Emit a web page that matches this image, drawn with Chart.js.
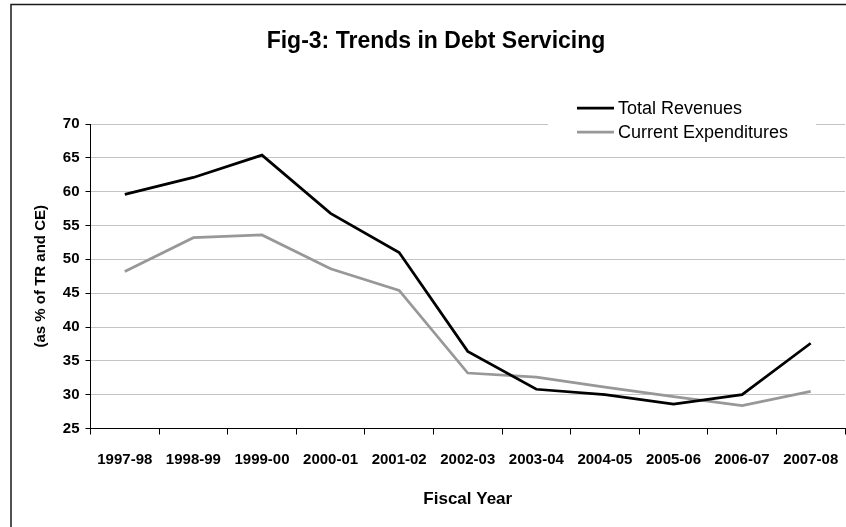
<!DOCTYPE html>
<html>
<head>
<meta charset="utf-8">
<title>Fig-3: Trends in Debt Servicing</title>
<script src="https://cdn.jsdelivr.net/npm/chart.js@4/dist/chart.umd.min.js"></script>
<style>
    html, body { margin: 0; padding: 0; background: #fff; }
    #chart { display: block; }
</style>
</head>
<body>
<canvas id="chart" width="846" height="527"></canvas>
<script>
// Values
const fiscalYears = ['1997-98', '1998-99', '1999-00', '2000-01', '2001-02', '2002-03',
    '2003-04', '2004-05', '2005-06', '2006-07', '2007-08'];
const totalRevenues = [59.6, 62.1, 65.4, 56.8, 51.0, 36.4, 30.8, 30.0, 28.6, 30.0, 37.6];
const currentExpenditures = [48.2, 53.2, 53.6, 48.6, 45.4, 33.2, 32.6, 31.1, 29.7, 28.4, 30.5];
const yTicks = [25, 30, 35, 40, 45, 50, 55, 60, 65, 70];

const chartTitle = 'Fig-3: Trends in Debt Servicing';
const FONT = '"Liberation Sans", Arial, Helvetica, sans-serif';

Chart.defaults.font.family = FONT;
Chart.defaults.color = '#000';

// Outer frame, title and the boxed legend (drawn by hand to match the Excel look)
const figureDecor = {
    id: 'figureDecor',
    afterDraw(chart) {
        const ctx = chart.ctx;
        ctx.save();

        // frame (top + left edge visible)
        ctx.strokeStyle = '#1a1a1a';
        ctx.lineWidth = 1.5;
        ctx.beginPath();
        ctx.moveTo(11, chart.height);
        ctx.lineTo(11, 4.5);
        ctx.lineTo(chart.width, 4.5);
        ctx.stroke();

        // title
        ctx.fillStyle = '#000';
        ctx.font = 'bold 23px ' + FONT;
        ctx.textAlign = 'center';
        ctx.textBaseline = 'middle';
        ctx.fillText(chartTitle, 436, 42);

        // legend
        ctx.fillStyle = '#fff';
        ctx.fillRect(548, 94, 268, 52);
        ctx.font = '18px ' + FONT;
        ctx.textAlign = 'left';
        chart.data.datasets.forEach((ds, i) => {
            const y = 108 + i * 24;
            ctx.strokeStyle = ds.borderColor;
            ctx.lineWidth = ds.borderWidth;
            ctx.beginPath();
            ctx.moveTo(577, y);
            ctx.lineTo(614, y);
            ctx.stroke();
            ctx.fillStyle = '#000';
            ctx.fillText(ds.label, 618, y + 1);
        });

        ctx.restore();
    }
};

const ctx = document.getElementById('chart').getContext('2d');
new Chart(ctx, {
    type: 'line',
    data: {
        labels: fiscalYears,
        datasets: [
            {
                label: 'Total Revenues',
                data: totalRevenues,
                borderColor: '#000000',
                borderWidth: 2.75,
                pointRadius: 0,
                tension: 0,
                fill: false
            },
            {
                label: 'Current Expenditures',
                data: currentExpenditures,
                borderColor: '#989898',
                borderWidth: 2.75,
                pointRadius: 0,
                tension: 0,
                fill: false
            }
        ]
    },
    options: {
        responsive: false,
        animation: false,
        layout: {
            padding: { top: 124, right: 1, bottom: 0, left: 0 }
        },
        plugins: {
            legend: { display: false },
            title: { display: false },
            tooltip: { enabled: false }
        },
        scales: {
            x: {
                type: 'category',
                offset: true,
                grid: {
                    offset: true,
                    drawOnChartArea: false,
                    tickLength: 6,
                    tickColor: '#000'
                },
                border: { color: '#000', width: 1 },
                ticks: {
                    autoSkip: false,
                    maxRotation: 0,
                    padding: 16,
                    font: { size: 15, weight: 'bold' }
                },
                title: {
                    display: true,
                    text: 'Fiscal Year',
                    font: { size: 17, weight: 'bold' },
                    padding: { top: 0, bottom: 17 }
                },
                afterFit(scale) {
                    scale.height = 98.5;
                    // no extra side padding for the outer labels, axis runs to the edge
                    scale.paddingLeft = 0;
                    scale.paddingRight = 0;
                }
            },
            y: {
                min: 25,
                max: 70,
                afterBuildTicks(scale) {
                    scale.ticks = yTicks.map(v => ({ value: v }));
                },
                grid: {
                    color: '#c4c4c4',
                    tickColor: '#000',
                    tickLength: 5,
                    lineWidth: 1
                },
                border: { color: '#000', width: 1 },
                ticks: {
                    padding: 6,
                    font: { size: 15, weight: 'bold' }
                },
                title: {
                    display: true,
                    text: '(as % of TR and CE)',
                    font: { size: 15, weight: 'bold' },
                    padding: { top: 32, bottom: 0 }
                },
                afterFit(scale) { scale.width = 90.5; }
            }
        }
    },
    plugins: [figureDecor]
});
</script>
</body>
</html>
